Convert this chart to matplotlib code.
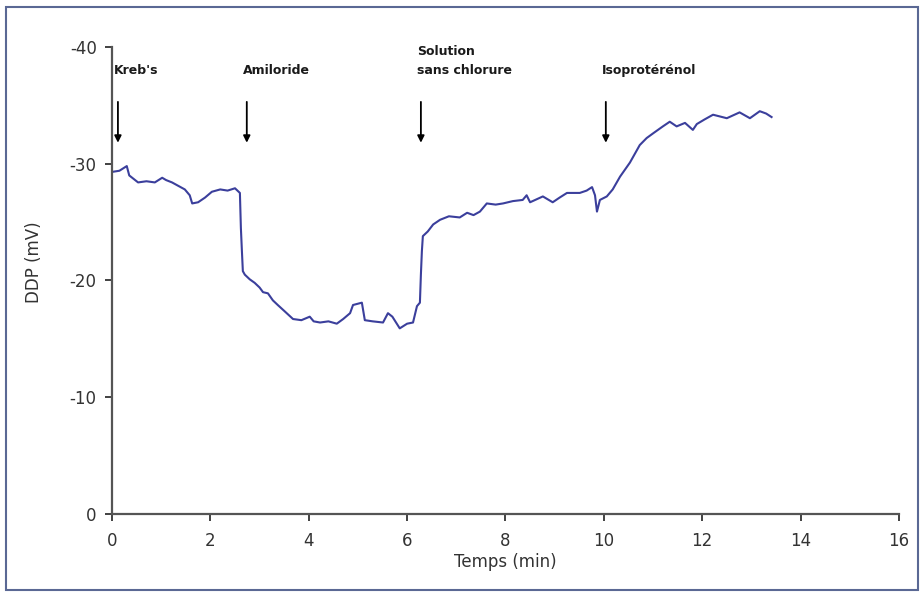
import matplotlib
matplotlib.use("Agg")
import matplotlib.pyplot as plt
from matplotlib.patches import Rectangle

plt.rcParams["axes.unicode_minus"] = False

# trace: time (min) and DDP (mV)
temps = [0.0, 0.15, 0.3, 0.35, 0.53, 0.7, 0.87, 1.02, 1.1, 1.22, 1.35, 1.48, 1.58,
         1.63, 1.75, 1.89, 2.03, 2.2, 2.35, 2.5, 2.6, 2.62, 2.64, 2.66, 2.7, 2.8,
         2.9, 3.0, 3.07, 3.17, 3.27, 3.37, 3.5, 3.68, 3.85, 4.02, 4.1, 4.23, 4.4,
         4.57, 4.7, 4.84, 4.9, 5.08, 5.14, 5.3, 5.51, 5.61, 5.7, 5.85, 6.0, 6.12,
         6.2, 6.26, 6.28, 6.3, 6.32, 6.42, 6.53, 6.67, 6.85, 7.07, 7.22, 7.35,
         7.48, 7.62, 7.8, 7.95, 8.15, 8.35, 8.43, 8.5, 8.76, 8.96, 9.1, 9.25,
         9.51, 9.65, 9.76, 9.82, 9.86, 9.92, 10.06, 10.18, 10.33, 10.53, 10.73,
         10.87, 11.0, 11.2, 11.34, 11.48, 11.65, 11.81, 11.89, 12.05, 12.22,
         12.5, 12.76, 12.97, 13.17, 13.3, 13.41]
ddp = [-29.3, -29.4, -29.8, -29.0, -28.4, -28.5, -28.4, -28.8, -28.6, -28.4, -28.1,
       -27.8, -27.3, -26.6, -26.7, -27.1, -27.6, -27.8, -27.7, -27.9, -27.5, -24.5,
       -22.6, -20.8, -20.5, -20.1, -19.8, -19.4, -19.0, -18.9, -18.3, -17.9, -17.4,
       -16.7, -16.6, -16.9, -16.5, -16.4, -16.5, -16.3, -16.7, -17.2, -17.9, -18.1,
       -16.6, -16.5, -16.4, -17.2, -16.9, -15.9, -16.3, -16.4, -17.8, -18.1, -20.5,
       -22.5, -23.8, -24.2, -24.8, -25.2, -25.5, -25.4, -25.8, -25.6, -25.9, -26.6,
       -26.5, -26.6, -26.8, -26.9, -27.3, -26.7, -27.2, -26.7, -27.1, -27.5, -27.5,
       -27.7, -28.0, -27.3, -25.9, -26.9, -27.2, -27.8, -28.9, -30.1, -31.6, -32.2,
       -32.6, -33.2, -33.6, -33.2, -33.5, -32.9, -33.4, -33.8, -34.2, -33.9, -34.4,
       -33.9, -34.5, -34.3, -34.0]

# events: label, arrow x position
event_labels = ["Kreb's", "Amiloride", "Solution\nsans chlorure", "Isoprotérénol"]
event_times = [0.12, 2.74, 6.28, 10.04]

x_ticks = [0, 2, 4, 6, 8, 10, 12, 14, 16]
y_ticks = [-40, -30, -20, -10, 0]

fig = plt.figure(figsize=(9.22, 5.92), dpi=100)
ax = fig.add_axes([0.1215, 0.1318, 0.8535, 0.7888])

ax.plot(temps, ddp, color="#3b3f9c", linewidth=1.5)

for label, t in zip(event_labels, event_times):
    ax.annotate("", xy=(t, -31.8), xytext=(t, -35.3),
                arrowprops=dict(arrowstyle="-|>", color="black", lw=1.3,
                                mutation_scale=10, shrinkA=0, shrinkB=0))
    ax.text(t - 0.08, -37.4, label, fontsize=9, fontweight="semibold", ha="left",
            va="bottom", color="#1a1a1a", linespacing=1.6)

ax.set_xlim(0, 16)
ax.set_ylim(0, -40)
ax.set_xticks(x_ticks)
ax.set_yticks(y_ticks)
ax.tick_params(labelsize=12, colors="#333333", length=5, width=1.3)
ax.tick_params(axis="x", pad=8)
ax.tick_params(axis="y", pad=6)

for side in ["top", "right"]:
    ax.spines[side].set_visible(False)
for side in ["left", "bottom"]:
    ax.spines[side].set_color("#555555")
    ax.spines[side].set_linewidth(1.6)

ax.set_xlabel("Temps (min)", fontsize=12, color="#333333")
ax.xaxis.set_label_coords(0.5, -0.083)
ax.set_ylabel("DDP (mV)", fontsize=12, color="#333333")
ax.yaxis.set_label_coords(-0.088, 0.54)

# outer frame around the figure
fig.patches.append(Rectangle((0.006, 0.004), 0.99, 0.984, transform=fig.transFigure,
                             fill=False, edgecolor="#5a6894", linewidth=1.5))

fig.savefig("out.png", dpi=100)
